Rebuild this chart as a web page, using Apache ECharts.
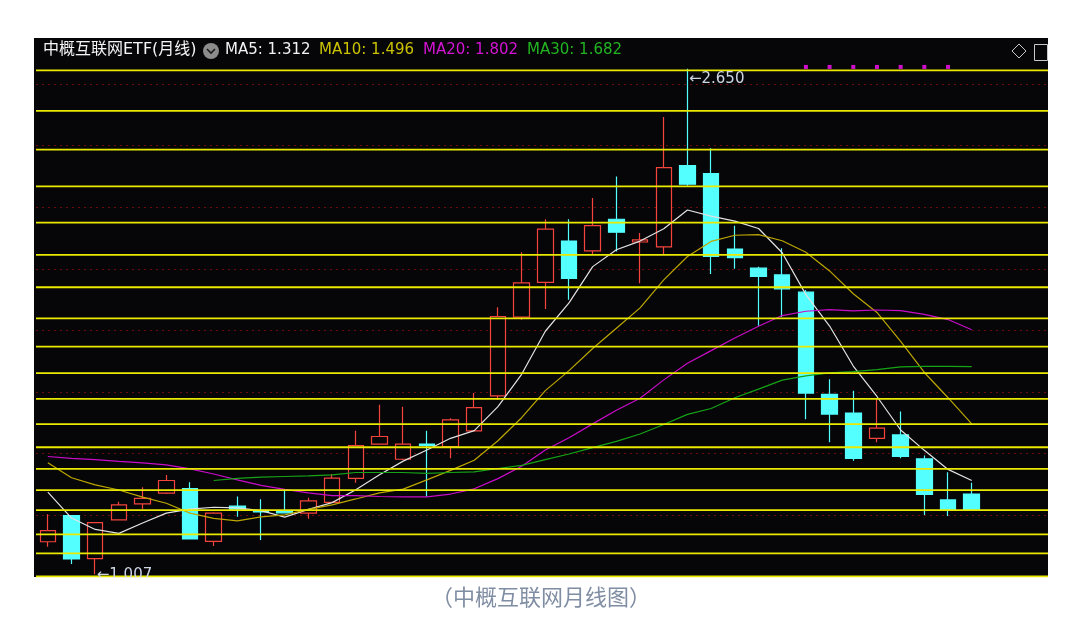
<!DOCTYPE html>
<html><head><meta charset="utf-8">
<script src="https://cdn.jsdelivr.net/npm/echarts@6/dist/echarts.min.js"></script>
<style>html,body{margin:0;padding:0;background:#fff;}#c{width:1087px;height:620px;}</style>
</head><body><div id="c"></div>
<script>
const chartTitle = '中概互联网ETF(月线)';
const caption = '（中概互联网月线图）';
const maNames = ['MA5', 'MA10', 'MA20', 'MA30'];

const opens  = [1.113,1.198,1.058,1.184,1.236,1.271,1.286,1.114,1.229,1.215,1.213,1.206,1.241,1.319,1.430,1.381,1.430,1.422,1.473,1.587,1.843,1.956,2.090,2.058,2.161,2.087,2.071,2.335,2.309,2.064,2.002,1.980,1.924,1.592,1.531,1.449,1.460,1.382,1.249,1.268];
const closes = [1.149,1.057,1.175,1.233,1.254,1.312,1.122,1.206,1.219,1.210,1.207,1.246,1.320,1.425,1.455,1.430,1.426,1.509,1.549,1.845,1.954,2.129,1.969,2.140,2.119,2.094,2.329,2.275,2.040,2.036,1.975,1.935,1.596,1.528,1.384,1.482,1.390,1.267,1.216,1.216];
const lows   = [1.097,1.041,1.007,1.182,1.219,1.268,1.120,1.099,1.194,1.119,1.206,1.188,1.239,1.305,1.428,1.379,1.259,1.384,1.471,1.574,1.834,1.869,1.899,2.048,2.056,1.953,2.048,2.270,1.983,2.000,1.815,1.843,1.511,1.436,1.376,1.436,1.384,1.200,1.197,1.216];
const highs  = [1.202,1.200,1.176,1.243,1.290,1.330,1.306,1.209,1.260,1.251,1.281,1.256,1.333,1.474,1.558,1.552,1.474,1.514,1.596,1.875,2.054,2.161,2.161,2.230,2.300,2.116,2.493,2.650,2.392,2.140,2.007,2.067,1.931,1.641,1.604,1.579,1.536,1.393,1.339,1.305];

const ma5  = [1.274,1.190,1.153,1.140,1.174,1.206,1.219,1.225,1.223,1.214,1.193,1.218,1.240,1.282,1.331,1.375,1.411,1.449,1.474,1.552,1.657,1.797,1.889,2.007,2.062,2.090,2.130,2.191,2.171,2.155,2.131,2.052,1.916,1.814,1.684,1.585,1.476,1.410,1.348,1.312];
const ma10 = [1.370,1.321,1.298,1.281,1.258,1.238,1.206,1.189,1.181,1.194,1.200,1.218,1.233,1.252,1.272,1.284,1.314,1.345,1.378,1.441,1.516,1.604,1.669,1.741,1.807,1.873,1.964,2.040,2.089,2.109,2.111,2.091,2.054,1.993,1.919,1.858,1.764,1.663,1.581,1.496];
const ma20 = [1.390,1.384,1.380,1.374,1.369,1.363,1.350,1.333,1.314,1.296,1.283,1.272,1.263,1.263,1.260,1.259,1.259,1.268,1.285,1.318,1.358,1.411,1.451,1.496,1.540,1.579,1.639,1.693,1.734,1.775,1.813,1.848,1.862,1.867,1.863,1.866,1.864,1.852,1.835,1.802];
const ma30 = [null,null,null,null,null,null,null,1.312,1.319,1.323,1.325,1.327,1.330,1.338,1.338,1.338,1.335,1.338,1.340,1.351,1.361,1.380,1.398,1.419,1.439,1.463,1.494,1.527,1.546,1.581,1.609,1.638,1.652,1.662,1.666,1.672,1.681,1.683,1.683,1.682];

const levelLines = [2.645,2.513,2.387,2.268,2.150,2.045,1.940,1.839,1.747,1.661,1.577,1.495,1.420,1.350,1.281,1.216,1.137,1.075,1.000];
const signalIdx = [32,33,34,35,36,37,38];

const maColors = ['#e2e2e2', '#bca600', '#c80cc8', '#16a416'];
const maTextColors = ['#f2f2f2', '#cbc200', '#d414d4', '#22b422'];
const FONT = '"DejaVu Sans", "Noto Sans CJK SC", sans-serif';

const chart = echarts.init(document.getElementById('c'));

const candleData = opens.map((o, i) => [i, o, closes[i], lows[i], highs[i]]);
let iMax = 0, iMin = 0;
highs.forEach((h, i) => { if (h > highs[iMax]) iMax = i; });
lows.forEach((l, i) => { if (l < lows[iMin]) iMin = i; });

const maSeries = [ma5, ma10, ma20, ma30].map((arr, k) => ({
  type: 'line', name: maNames[k], data: arr.map((v, i) => [i, v]),
  showSymbol: false, symbol: 'none', smooth: false, z: 3, silent: true,
  lineStyle: { color: maColors[k], width: 1.2 }
}));

const legendX = [225, 319, 423, 527];
const maLast = [ma5, ma10, ma20, ma30].map(a => a[a.length - 1]);

const graphics = [
  { type: 'rect', z: -10, shape: { x: 34, y: 38, width: 1014, height: 539 }, style: { fill: '#060608' } },
  { type: 'rect', z: 50, shape: { x: 30, y: 30, width: 1030, height: 8 }, style: { fill: '#ffffff' } },
  { type: 'rect', z: 50, shape: { x: 34, y: 38, width: 1014, height: 4 }, style: { fill: '#060608' } },
  { type: 'text', z: 100, left: 43, top: 42, style: { text: chartTitle, fill: '#f4f4f4', font: '16px ' + FONT } },
  { type: 'circle', z: 100, shape: { cx: 211, cy: 51, r: 8 }, style: { fill: '#8c8c8c' } },
  { type: 'polyline', z: 101, shape: { points: [[207, 49], [211, 53], [215, 49]] }, style: { stroke: '#1a1a1a', lineWidth: 1.6, fill: null } },
  { type: 'polygon', z: 100, shape: { points: [[1019, 44], [1026, 51], [1019, 58], [1012, 51]] }, style: { stroke: '#c8c8c8', fill: null, lineWidth: 1 } },
  { type: 'rect', z: 100, shape: { x: 1034.5, y: 44.5, width: 13, height: 16 }, style: { stroke: '#c8c8c8', fill: null, lineWidth: 1 } },
  { type: 'rect', z: 90, shape: { x: 0, y: 577.5, width: 1087, height: 43 }, style: { fill: '#ffffff' } },
  { type: 'text', z: 100, left: 431, top: 586, style: { text: caption, fill: '#808ea4', font: '22px "Noto Sans CJK SC", sans-serif' } }
];
maNames.forEach((n, k) => {
  graphics.push({ type: 'text', z: 100, left: legendX[k], top: 43,
    style: { text: n + ': ' + maLast[k].toFixed(3), fill: maTextColors[k], font: '15px ' + FONT } });
});

chart.setOption({
  backgroundColor: '#ffffff',
  animation: false,
  grid: { left: 36, top: 38, width: 1012, height: 538.5, containLabel: false },
  xAxis: { type: 'value', min: -0.5, max: 42.22, show: false, splitLine: { show: false } },
  yAxis: {
    type: 'value', min: 1.0, max: 2.75, interval: 0.2, scale: true,
    axisLine: { show: false }, axisTick: { show: false }, axisLabel: { show: false },
    splitLine: { show: true, lineStyle: { color: '#6a0c0c', type: [2, 4], width: 1 } }
  },
  graphic: graphics,
  series: [
    {
      type: 'candlestick', data: candleData, barWidth: 16, z: 2, silent: true,
      encode: { x: 0, y: [1, 2, 3, 4] },
      itemStyle: { color: '#060608', color0: '#54ffff', borderColor: '#f4443c', borderColor0: '#54ffff', borderWidth: 1.2 },
      markPoint: {
        symbol: 'circle', symbolSize: 1, itemStyle: { color: 'rgba(0,0,0,0)' }, silent: true,
        data: [
          { coord: [iMax, highs[iMax]], value: highs[iMax],
            label: { show: true, position: 'right', offset: [-4, 10], formatter: '←' + highs[iMax].toFixed(3), color: '#cdd6e2', fontSize: 15, fontFamily: FONT } },
          { coord: [iMin, lows[iMin]], value: lows[iMin],
            label: { show: true, position: 'right', offset: [-4, 1], formatter: '←' + lows[iMin].toFixed(3), color: '#cdd6e2', fontSize: 15, fontFamily: FONT } }
        ]
      }
    },
    ...maSeries,
    {
      type: 'custom', z: 5, silent: true, clip: false,
      data: levelLines.map(v => [0, v]),
      encode: { x: 0, y: 1 },
      renderItem: (params, api) => {
        const y = api.coord([0, api.value(1)])[1];
        const cs = params.coordSys;
        return { type: 'line', shape: { x1: cs.x, y1: y, x2: cs.x + cs.width, y2: y },
          style: { stroke: '#eaea00', lineWidth: 1.8 } };
      }
    },
    {
      type: 'scatter', z: 6, silent: true, symbol: 'rect', symbolSize: 4,
      data: signalIdx.map(i => [i, 2.656]),
      itemStyle: { color: '#ff10ff' }
    }
  ]
});
</script></body></html>
